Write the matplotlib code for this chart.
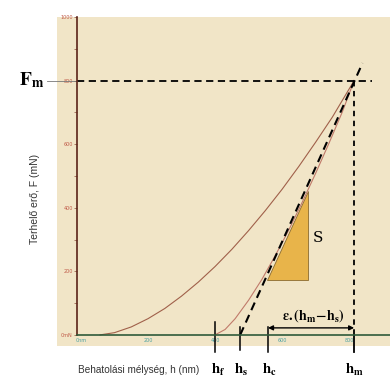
import numpy as np
import matplotlib
matplotlib.use('Agg')
import matplotlib.pyplot as plt
from matplotlib.patches import Polygon

plt.rcParams['mathtext.fontset'] = 'stix'

# loading curve
load_h = [57, 100, 150, 200, 250, 300, 350, 400, 450, 500, 550, 600, 650, 700, 750, 815]
load_F = [0, 7, 25, 51, 83, 122, 166, 215, 269, 328, 391, 458, 530, 606, 685, 800]

# unloading curve
unload_h = [400, 430, 460, 500, 540, 580, 620, 660, 700, 740, 780, 815]
unload_F = [0, 17, 51, 109, 175, 250, 330, 417, 508, 603, 702, 800]

# characteristic points
Fm = 800
hf = 400
hs = 475
hc = 558
hm = 815
tangent_h = [475, 840]
tangent_F = [0, 855]
tri_h = [555, 678, 678]
tri_F = [173, 173, 452]

yticks = [0, 200, 400, 600, 800, 1000]
ytick_labels = ['0mN', '200', '400', '600', '800', '1000']
xticks = [0, 200, 400, 600, 800]
xtick_labels = ['0nm', '200', '400', '600', '800']

fig = plt.figure(figsize=(3.9, 3.87), dpi=100)
ax = fig.add_axes([57/390, 41/387, 333/390, 329/387])
ax.set_facecolor('#f1e5c7')
ax.set_xlim(-71.6, 922)
ax.set_ylim(-35, 1000)

for s in ['top', 'right']:
    ax.spines[s].set_visible(False)
ax.spines['left'].set_position(('data', -12))
ax.spines['bottom'].set_position(('data', 0))
ax.spines['left'].set_bounds(0, 1000)
ax.spines['bottom'].set_bounds(-12, 922)
ax.spines['left'].set_color('#5b2318')
ax.spines['bottom'].set_color('#2f5a3a')
ax.spines['left'].set_linewidth(1.2)
ax.spines['bottom'].set_linewidth(1.2)

ax.set_yticks(yticks)
ax.set_yticklabels(ytick_labels)
ax.set_yticks([100, 300, 500, 700, 900], minor=True)
ax.set_xticks(xticks)
ax.set_xticklabels(xtick_labels)
ax.tick_params(axis='y', which='both', length=2, width=0.5, color='#8a4a3a',
               labelsize=3.5, labelcolor='#c05a48', pad=1)
ax.tick_params(axis='x', length=0, labelsize=3.5, labelcolor='#4aa0a0', pad=2)

# curves
ax.plot(load_h, load_F, color='#a0604a', lw=0.8)
ax.plot(unload_h, unload_F, color='#c07a6a', lw=0.8)

# stiffness triangle
tri = Polygon(list(zip(tri_h, tri_F)), closed=True, facecolor='#e8b44a',
              edgecolor='#8a6a30', lw=0.6)
ax.add_patch(tri)
ax.text(706, 305, 'S', fontsize=11, family='serif', ha='center', va='center')

# tangent and Fm / hm lines
ax.plot(tangent_h, tangent_F, color='black', lw=1.5, dashes=(4, 2.5))
ax.plot([-12, 869], [Fm, Fm], color='black', lw=1.3, dashes=(4, 2.5))
ax.plot([hm, hm], [Fm, 0], color='black', lw=1.3, dashes=(3, 2.5))

# marker lines below axis
ax.plot([hf, hf], [41, -53], color='black', lw=1.1, clip_on=False)
ax.plot([hs, hs], [25, -47], color='black', lw=1.1, clip_on=False)
ax.plot([hc, hc], [25, -53], color='black', lw=1.1, clip_on=False)
ax.plot([hm, hm], [0, -53], color='black', lw=1.3, clip_on=False)

ax.annotate('', xy=(hc, 22), xytext=(hm, 22),
            arrowprops=dict(arrowstyle='<|-|>', color='black', lw=1.0,
                            mutation_scale=7, shrinkA=0, shrinkB=0))
ax.text(693, 62, r'$\mathbf{\varepsilon.(h_m\!-\!h_s)}$', fontsize=10,
        ha='center', va='center')

# bottom labels
for x, lab in [(hf + 8, r'$\mathbf{h_f}$'), (hs + 4, r'$\mathbf{h_s}$'),
               (hc + 4, r'$\mathbf{h_c}$'), (hm + 2, r'$\mathbf{h_m}$')]:
    ax.text(x, -110, lab, fontsize=10.5, ha='center', va='center', clip_on=False)

ax.text(173, -110, 'Behatolási mélység, h (nm)', fontsize=7.2,
        family='Liberation Sans', color='#333333', ha='center', va='center',
        clip_on=False)

# Fm label on the left
ax.plot([-101, -12], [Fm, Fm], color='#777777', lw=0.6, clip_on=False)
fig.text(32/390, 1 - 80/387, r'$\mathbf{F_m}$', fontsize=14,
         ha='center', va='center')
fig.text(35/390, 1 - 199/387, 'Terhelő erő, F (mN)', fontsize=7.5,
         family='Liberation Sans', color='#333333', rotation=90,
         ha='center', va='center')

fig.savefig('out.png', dpi=100)
